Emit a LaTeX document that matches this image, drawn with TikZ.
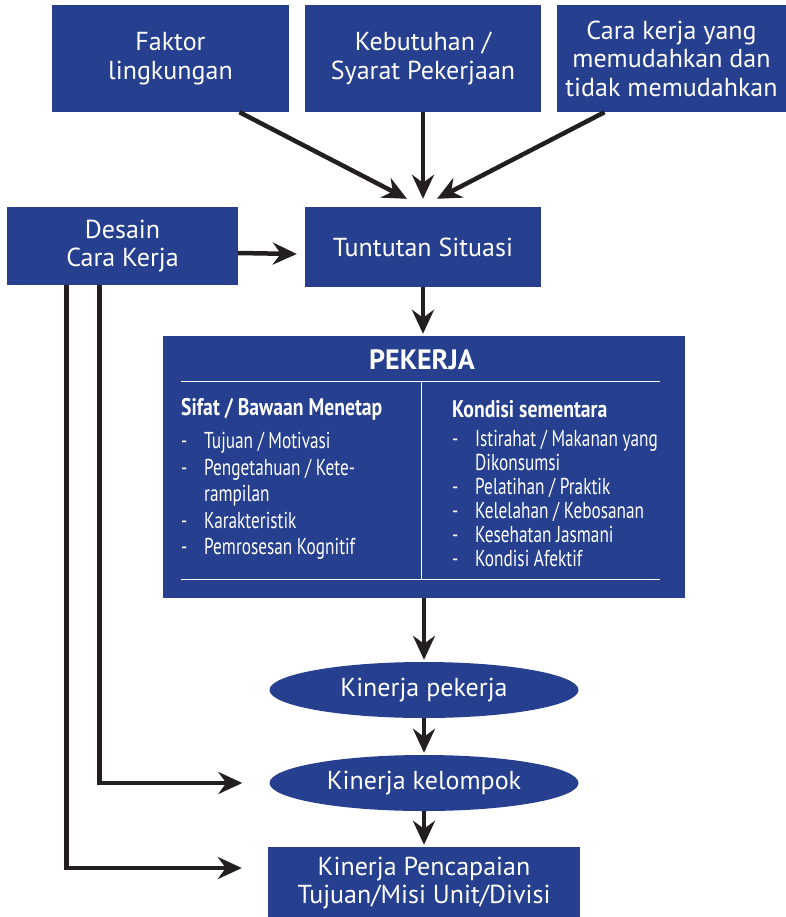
\documentclass[tikz,border=0pt]{standalone}
\usepackage{fontspec}
\setmainfont{PT Sans}
\newfontfamily\condfont{PT Sans}[FakeStretch=0.75]
\newfontfamily\judulfont{PT Sans}[FakeStretch=0.82]
\usetikzlibrary{arrows.meta, positioning, shapes.geometric}
\definecolor{kblue}{HTML}{263F8E}
\definecolor{kdark}{HTML}{231F20}
\newcommand{\butir}{\makebox[23pt][l]{-}}
\newcommand{\lanjut}{\hspace*{23pt}}
\tikzset{
  % kotak biru
  kotak/.style={fill=kblue, text=white, align=center, inner sep=0pt,
    font=\fontsize{26}{28.5}\selectfont},
  % elips kinerja
  oval/.style={ellipse, fill=kblue, text=white, inner sep=0pt, minimum width=309pt,
    minimum height=56pt, font=\fontsize{26}{28.5}\selectfont},
  % panah tebal
  panah/.style={draw=kdark, line width=4.5pt, -{Stealth[length=24pt, width=22pt, inset=8pt]}},
  % garis pemisah di dalam kotak pekerja
  garis/.style={draw=white, line width=1pt},
  % kolom daftar
  kolom/.style={text=white, align=left, inner sep=0pt, anchor=north west},
  judulkolom/.style={text=white, inner sep=0pt, anchor=west,
    font=\judulfont\bfseries\fontsize{24}{26}\selectfont},
}
\begin{document}
\begin{tikzpicture}[x=1pt, y=-1pt]
  \useasboundingbox[fill=white] (0,0) rectangle (786,917);
  % baris atas
  \node[kotak, minimum width=237pt, minimum height=107pt] (faktor) at (170.5,58.5) {Faktor\\lingkungan};
  \node[kotak, minimum width=236pt, minimum height=107pt] (kebutuhan) at (423,58.5) {Kebutuhan /\\Syarat Pekerjaan};
  \node[kotak, minimum width=229pt, minimum height=107pt] (carakerja) at (671.5,58.5) {Cara kerja yang\\memudahkan dan\\tidak memudahkan};
  % baris kedua
  \node[kotak, minimum width=231pt, minimum height=78pt] (desain) at (122.5,246) {Desain\\Cara Kerja};
  \node[kotak, minimum width=236pt, minimum height=80pt] (tuntutan) at (423,247) {Tuntutan Situasi};
  % kotak pekerja
  \node[kotak, minimum width=522pt, minimum height=262pt] (pekerja) at (424,467) {};
  \node[text=white, inner sep=0pt, font=\bfseries\fontsize{28}{30}\selectfont] (judul) at (422,360) {PEKERJA};
  \draw[garis] (181,381) -- (660,381);
  \draw[garis] (421,381) -- (421,579);
  \draw[garis] (181,579) -- (660,579);
  \node[judulkolom] (sifat) at (181,409) {Sifat / Bawaan Menetap};
  \node[judulkolom] (sementara) at (452,409) {Kondisi sementara};
  \node[kolom, font=\condfont\fontsize{23}{26.5}\selectfont] (bawaan) at (181,432)
    {\butir Tujuan / Motivasi\\ \butir Pengetahuan / Kete-\\ \lanjut rampilan\\ \butir Karakteristik\\ \butir Pemrosesan Kognitif};
  \node[kolom, font=\condfont\fontsize{23}{24}\selectfont] (kondisi) at (452,430)
    {\butir Istirahat / Makanan yang\\ \lanjut Dikonsumsi\\ \butir Pelatihan / Praktik\\ \butir Kelelahan / Kebosanan\\ \butir Kesehatan Jasmani\\ \butir Kondisi Afektif};
  % hasil kinerja
  \node[oval] (kinerjap) at (424,690) {Kinerja pekerja};
  \node[oval] (kinerjak) at (424,783) {Kinerja kelompok};
  \node[kotak, minimum width=312pt, minimum height=72pt] (capaian) at (424,883) {Kinerja Pencapaian\\Tujuan/Misi Unit/Divisi};
  % panah
  \draw[panah] ([xshift=69pt]faktor.south) -- ([xshift=-16pt, yshift=8pt]tuntutan.north);
  \draw[panah] (kebutuhan.south) -- ([yshift=8pt]tuntutan.north);
  \draw[panah] ([xshift=-67pt]carakerja.south) -- ([xshift=14pt, yshift=8pt]tuntutan.north);
  \draw[panah] ([yshift=-7pt]desain.east) -- ([xshift=-8pt, yshift=-7pt]tuntutan.west);
  \draw[panah] (tuntutan.south) -- ([xshift=-1pt, yshift=2pt]pekerja.north);
  \draw[panah] (pekerja.south) -- ([yshift=2pt]kinerjap.north);
  \draw[panah] (kinerjap.south) -- ([yshift=2pt]kinerjak.north);
  \draw[panah] (kinerjak.south) -- ([yshift=2pt]capaian.north);
  \coordinate (d1) at ([xshift=-56pt]desain.south);
  \coordinate (d2) at ([xshift=-23pt]desain.south);
  \draw[panah] (d2) |- ([xshift=-27pt]kinerjak.west);
  \draw[panah] (d1) |- ([xshift=-26pt, yshift=15pt]capaian.west);
\end{tikzpicture}
\end{document}
